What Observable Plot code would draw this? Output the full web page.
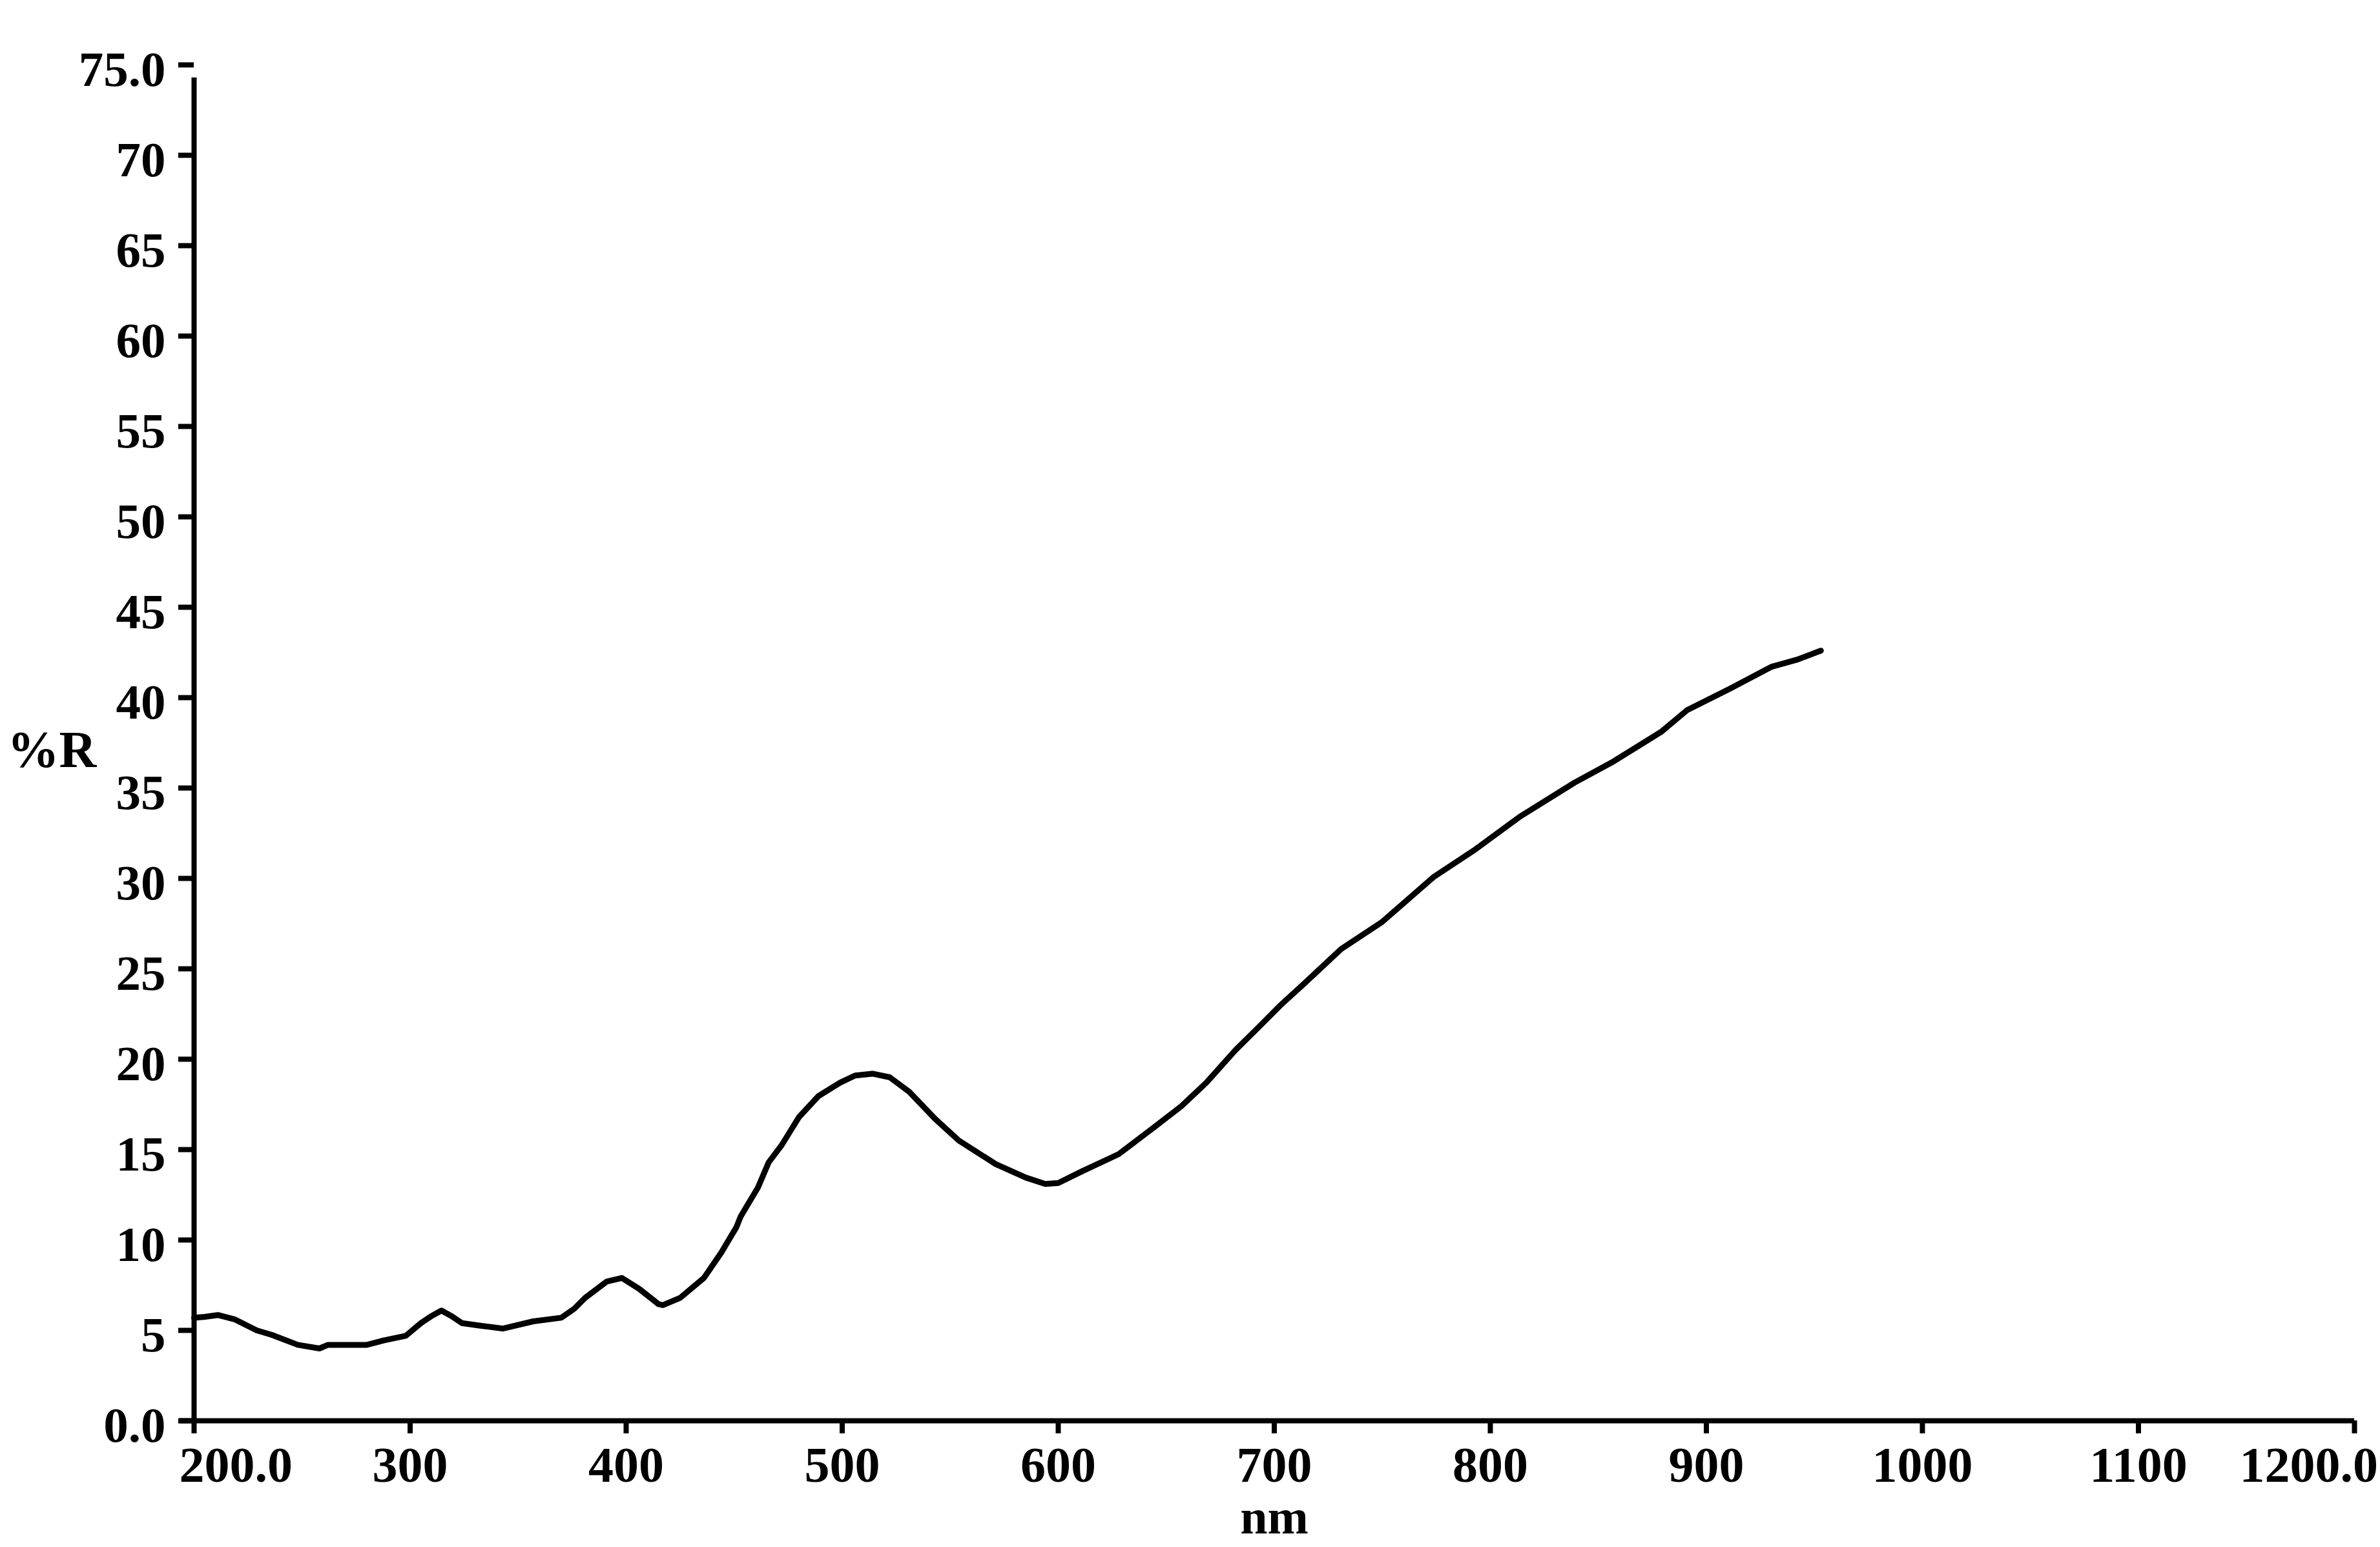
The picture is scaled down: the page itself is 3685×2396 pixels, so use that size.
<!DOCTYPE html>
<html><head><meta charset="utf-8">
<script src="https://cdn.jsdelivr.net/npm/d3@7"></script>
<script src="https://cdn.jsdelivr.net/npm/@observablehq/plot@0.6"></script>
<style>body{margin:0;background:#fff} svg{display:block}</style>
</head><body><div id="chart"></div>
<script>
const wavelength = [200,205,211,219,229,236,248,258,262,270,280,288,298,305,310,314.5,319,324,333,343,357,370,376,381,391,398,406,415,417,425,436,444,451,453,461,466,472,480,489,499,506,514,522,531,543,554,571,585,594,600,611,628,644,657,668.5,682,693,703,714,731,750,774,793,813.5,839,856,879,891,911,930,942,953];
const reflectance = [5.7,5.75,5.85,5.6,5.0,4.75,4.2,4.0,4.2,4.2,4.2,4.45,4.7,5.4,5.8,6.1,5.8,5.4,5.25,5.1,5.5,5.7,6.2,6.8,7.7,7.9,7.3,6.45,6.4,6.8,7.9,9.3,10.7,11.3,12.9,14.3,15.25,16.8,17.96,18.7,19.1,19.2,19.0,18.2,16.7,15.5,14.2,13.45,13.1,13.15,13.8,14.75,16.2,17.4,18.7,20.5,21.8,23.0,24.2,26.1,27.6,30.1,31.6,33.4,35.3,36.4,38.1,39.3,40.5,41.7,42.1,42.6];
const xTickValues = [200,300,400,500,600,700,800,900,1000,1100,1200];
const xTickLabels = ["200.0","300","400","500","600","700","800","900","1000","1100","1200.0"];
const yTickValues = [0,5,10,15,20,25,30,35,40,45,50,55,60,65,70,75];
const yTickLabels = ["0.0","5","10","15","20","25","30","35","40","45","50","55","60","65","70","75.0"];
const xAxisTitle = "nm";
const yAxisTitle = "%R";

const data = wavelength.map((w, i) => ({nm: w, r: reflectance[i]}));
const xLabels = xTickValues.map((v, i) => ({v, label: xTickLabels[i]}));
const yLabels = yTickValues.map((v, i) => ({v, label: yTickLabels[i]}));
const n = xLabels.length;
const font = "'Liberation Serif', 'Times New Roman', serif";

const plot = Plot.plot({
  width: 3685, height: 2396,
  marginLeft: 300, marginRight: 40, marginTop: 100, marginBottom: 196,
  x: {domain: [200, 1200]},
  y: {domain: [0, 75]},
  style: {fontFamily: font, fontWeight: "bold", background: "#fff", color: "#000"},
  marks: [
    Plot.axisY(yTickValues, {tickSize: 24, strokeWidth: 8, fill: "none", label: null}),
    Plot.axisX(xTickValues, {tickSize: 20, strokeWidth: 8, fill: "none", label: null}),
    Plot.ruleX([200], {y1: 0, y2: 75, strokeWidth: 8, insetBottom: -20}),
    Plot.ruleY([0], {x1: 200, x2: 1200, strokeWidth: 8, insetLeft: -22}),
    Plot.text(yLabels, {x: () => 200, y: "v", text: "label", textAnchor: "end", lineAnchor: "middle", dx: -44, dy: 8, fontSize: 77}),
    Plot.text(xLabels, {filter: (d, i) => i > 0 && i < n - 1, x: "v", y: () => 0, text: "label", lineAnchor: "middle", dy: 70, fontSize: 78}),
    Plot.text(xLabels, {filter: (d, i) => i === 0, x: "v", y: () => 0, text: "label", textAnchor: "start", lineAnchor: "middle", dx: -23, dy: 70, fontSize: 78}),
    Plot.text(xLabels, {filter: (d, i) => i === n - 1, x: "v", y: () => 0, text: "label", textAnchor: "start", lineAnchor: "middle", dx: -178, dy: 70, fontSize: 78}),
    Plot.text([yAxisTitle], {frameAnchor: "left", text: d => d, textAnchor: "middle", lineAnchor: "middle", dx: -220, dy: 12, fontSize: 80}),
    Plot.text([xAxisTitle], {frameAnchor: "bottom", text: d => d, textAnchor: "middle", lineAnchor: "middle", dy: 150, fontSize: 76}),
    Plot.line(data, {x: "nm", y: "r", stroke: "#000", strokeWidth: 9, strokeLinejoin: "round"})
  ]
});
document.getElementById("chart").append(plot);
</script>
</body></html>
